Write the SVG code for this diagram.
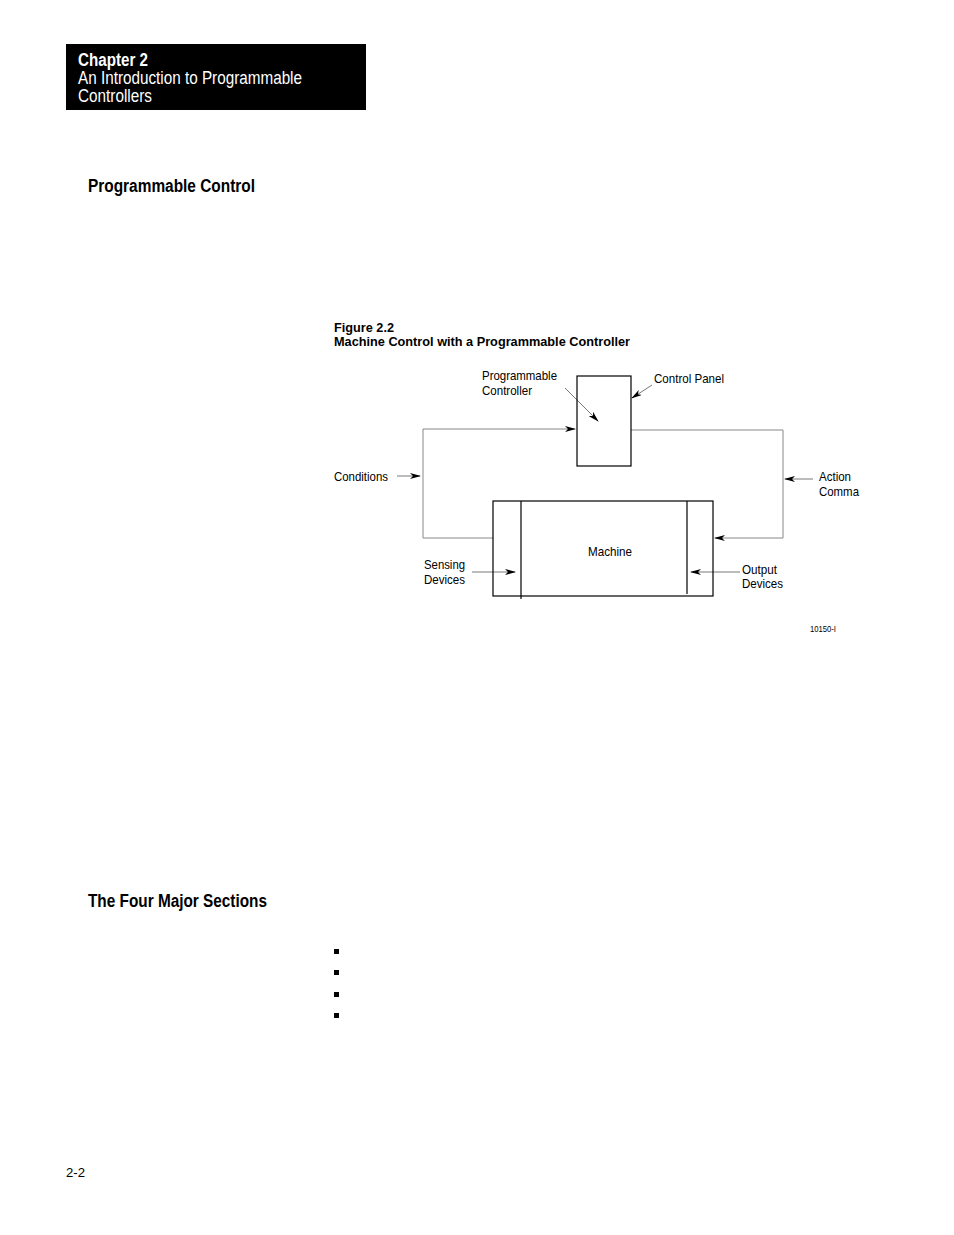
<svg xmlns="http://www.w3.org/2000/svg" width="954" height="1235" viewBox="0 0 954 1235">
<style>
text{font-family:"Liberation Sans",Arial,sans-serif;fill:#000}
.b{font-weight:bold}
.hd{fill:#fff;font-size:18px}
.lbl{font-size:13px}
.box{fill:none;stroke:#000;stroke-width:1.2}
.con{fill:none;stroke:#888;stroke-width:1}
.ptr{fill:none;stroke:#555;stroke-width:0.8}
</style>
<defs>
<marker id="ah" markerWidth="11" markerHeight="6" refX="10" refY="3" orient="auto" markerUnits="userSpaceOnUse">
<path d="M0,0 L11,3 L0,6 L3,3 Z" fill="#000"/>
</marker>
</defs>
<rect x="0" y="0" width="954" height="1235" fill="#fff"/>
<g id="header">
<rect x="66" y="44" width="300" height="66" fill="#000"/>
<text class="hd b" x="78" y="66" textLength="70" lengthAdjust="spacingAndGlyphs">Chapter 2</text>
<text class="hd" x="78" y="84" textLength="224" lengthAdjust="spacingAndGlyphs">An Introduction to Programmable</text>
<text class="hd" x="78" y="102" textLength="74" lengthAdjust="spacingAndGlyphs">Controllers</text>
</g>
<text class="b" x="88" y="192" font-size="18" textLength="167" lengthAdjust="spacingAndGlyphs">Programmable Control</text>
<text class="b" x="334" y="332" font-size="13.5" textLength="60" lengthAdjust="spacingAndGlyphs">Figure 2.2</text>
<text class="b" x="334" y="346" font-size="13.5" textLength="296" lengthAdjust="spacingAndGlyphs">Machine Control with a Programmable Controller</text>
<g id="connectors">
<polyline class="con" points="423,429 423,538 493,538"/>
<line class="con" x1="423" y1="429" x2="575" y2="429" marker-end="url(#ah)"/>
<polyline class="con" points="631,430 783,430 783,538"/>
<line class="con" x1="783" y1="538" x2="715" y2="538" marker-end="url(#ah)"/>
<line class="ptr" x1="397" y1="476" x2="420" y2="476" marker-end="url(#ah)"/>
<line class="ptr" x1="813" y1="479" x2="785" y2="479" marker-end="url(#ah)"/>
<line class="ptr" x1="565" y1="388" x2="598" y2="421" marker-end="url(#ah)"/>
<line class="ptr" x1="652" y1="385" x2="632" y2="398" marker-end="url(#ah)"/>
<line class="ptr" x1="472" y1="572" x2="515" y2="572" marker-end="url(#ah)"/>
<line class="ptr" x1="740" y1="572" x2="691" y2="572" marker-end="url(#ah)"/>
</g>
<g id="programmable-controller">
<rect class="box" x="577" y="376" width="54" height="90"/>
<text class="lbl" x="482" y="380" textLength="75" lengthAdjust="spacingAndGlyphs">Programmable</text>
<text class="lbl" x="482" y="395" textLength="50" lengthAdjust="spacingAndGlyphs">Controller</text>
<text class="lbl" x="654" y="383" textLength="70" lengthAdjust="spacingAndGlyphs">Control Panel</text>
</g>
<g id="machine">
<rect class="box" x="493" y="501" width="220" height="95"/>
<line class="box" x1="521" y1="501" x2="521" y2="599"/>
<line class="box" x1="687" y1="501" x2="687" y2="594"/>
<text class="lbl" x="588" y="556" textLength="44" lengthAdjust="spacingAndGlyphs">Machine</text>
</g>
<g id="labels">
<text class="lbl" x="334" y="481" textLength="54" lengthAdjust="spacingAndGlyphs">Conditions</text>
<text class="lbl" x="819" y="481" textLength="32" lengthAdjust="spacingAndGlyphs">Action</text>
<text class="lbl" x="819" y="496" textLength="40" lengthAdjust="spacingAndGlyphs">Comma</text>
<text class="lbl" x="424" y="569" textLength="41" lengthAdjust="spacingAndGlyphs">Sensing</text>
<text class="lbl" x="424" y="584" textLength="41" lengthAdjust="spacingAndGlyphs">Devices</text>
<text class="lbl" x="742" y="574" textLength="35" lengthAdjust="spacingAndGlyphs">Output</text>
<text class="lbl" x="742" y="588" textLength="41" lengthAdjust="spacingAndGlyphs">Devices</text>
<text x="810" y="632" font-size="9" textLength="26" lengthAdjust="spacingAndGlyphs">10150-I</text>
</g>
<text class="b" x="88" y="907" font-size="18" textLength="179" lengthAdjust="spacingAndGlyphs">The Four Major Sections</text>
<g id="bullets" fill="#000">
<rect x="334" y="949" width="5" height="5"/>
<rect x="334" y="970" width="5" height="5"/>
<rect x="334" y="992" width="5" height="5"/>
<rect x="334" y="1013" width="5" height="5"/>
</g>
<text x="66" y="1177" font-size="13.5" textLength="19" lengthAdjust="spacingAndGlyphs">2-2</text>
</svg>
